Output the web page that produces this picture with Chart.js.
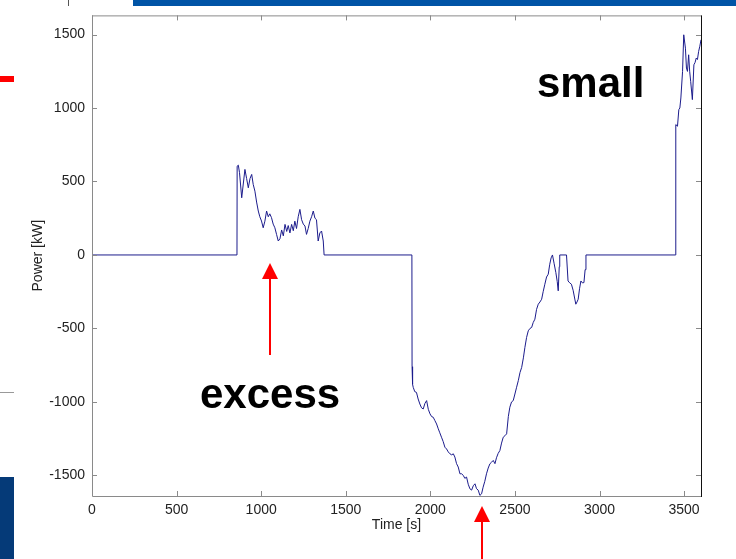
<!DOCTYPE html>
<html>
<head>
<meta charset="utf-8">
<script src="https://cdn.jsdelivr.net/npm/chart.js@4.4.1/dist/chart.umd.min.js"></script>
<style>
  html, body { margin: 0; padding: 0; background: #fff; }
  #wrap { position: relative; width: 736px; height: 559px; overflow: hidden; font-family: "Liberation Sans", Arial, sans-serif; }
  #wrap canvas { position: absolute; left: 0; top: 0; }
  .deco { position: absolute; }
  .note { position: absolute; font-weight: bold; font-size: 42px; color: #000; line-height: 1; white-space: nowrap; }
</style>
</head>
<body>
<div id="wrap">
  <canvas id="power-chart" width="736" height="559"></canvas>
  <div class="deco" style="left:133px; top:0; width:603px; height:6px; background:#0054a6;"></div>
  <div class="deco" style="left:68px; top:0; width:1px; height:6px; background:#555;"></div>
  <div class="deco" style="left:0; top:76px; width:14px; height:6px; background:#f00;"></div>
  <div class="deco" style="left:0; top:392px; width:14px; height:1px; background:#999;"></div>
  <div class="deco" style="left:0; top:477px; width:14px; height:82px; background:#053a78;"></div>
  <div class="note" style="left:537px; top:62px;">small</div>
  <div class="note" style="left:200px; top:373px;">excess</div>
</div>
<script>
// time [s] and power [kW]
const times = [0, 857, 858, 865, 872, 885, 904, 914, 924, 934, 944, 953, 963, 973, 983, 992, 1002, 1012, 1022, 1032,
  1042, 1051, 1061, 1071, 1081, 1091, 1101, 1111, 1121, 1131, 1141, 1151, 1160, 1170, 1180, 1190, 1199, 1209, 1219, 1229,
  1239, 1249, 1259, 1268, 1278, 1288, 1298, 1308, 1318, 1327, 1337, 1347, 1357, 1367, 1371, 1372,
  1891, 1892, 1895, 1899, 1908, 1918, 1928, 1938, 1948, 1958, 1968, 1978, 1988, 1998, 2008, 2017, 2027, 2037, 2047, 2056,
  2066, 2076, 2086, 2096, 2106, 2116, 2126, 2136, 2145, 2155, 2165, 2175, 2185, 2195, 2204, 2214, 2224, 2234, 2244, 2254,
  2264, 2273, 2283, 2293, 2303, 2312, 2322, 2332, 2342, 2352, 2362, 2372, 2382, 2391, 2401, 2411, 2421, 2431, 2441, 2451,
  2461, 2470, 2480, 2490, 2500, 2510, 2520, 2530, 2540, 2550, 2559, 2569, 2579, 2589, 2599, 2608, 2618, 2628, 2638, 2648,
  2658, 2667, 2677, 2687, 2697, 2706, 2714, 2722, 2732, 2742, 2750, 2756, 2762, 2765, 2805, 2814, 2824, 2834, 2844, 2854,
  2860, 2867, 2874, 2882, 2890, 2899, 2908, 2915, 2920,
  3450, 3451, 3461, 3469, 3475, 3481, 3491, 3498, 3508, 3514, 3520, 3527, 3533, 3539, 3549, 3558, 3565, 3572, 3579, 3586,
  3593, 3600];
const power = [0, 0, 604, 611, 560, 389, 582, 520, 457, 520, 548, 480, 434, 360, 299, 260, 231, 185, 230, 299,
  260, 280, 254, 210, 185, 140, 95, 110, 170, 130, 208, 160, 200, 150, 208, 165, 230, 180, 260, 310,
  240, 210, 197, 140, 180, 230, 260, 299, 250, 240, 95, 150, 163, 95, 95, 0,
  0, -760, -880, -901, -930, -935, -980, -1014, -1040, -1048, -1010, -991, -1050, -1081, -1100, -1104, -1127, -1150, -1183, -1210,
  -1240, -1270, -1308, -1320, -1340, -1353, -1360, -1353, -1375, -1420, -1443, -1489, -1489, -1500, -1520, -1511, -1560, -1591, -1600, -1570,
  -1557, -1590, -1600, -1636, -1625, -1580, -1540, -1489, -1450, -1421, -1410, -1398, -1420, -1380, -1350, -1331, -1280, -1240, -1230, -1217,
  -1100, -1036, -1000, -991, -946, -900, -855, -800, -765, -700, -629, -561, -516, -500, -493, -460, -437, -370, -335, -320,
  -301, -250, -199, -150, -131, -63, -20, 0, -60, -120, -180, -244, -80, 0, 0, -177, -190, -199, -240, -300,
  -335, -320, -301, -230, -177, -190, -188, -100, 0,
  0, 887, 876, 989, 1000, 1068, 1249, 1498, 1407, 1272, 1249, 1362, 1250, 1181, 1057, 1294, 1310, 1340, 1330, 1385,
  1420, 1464];

const xTicks = [0, 500, 1000, 1500, 2000, 2500, 3000, 3500];
const yTicks = [-1500, -1000, -500, 0, 500, 1000, 1500];

// MATLAB-like box with inward ticks, plus the two red arrows
const matlabAxes = {
    id: 'matlabAxes',
    afterDraw(chart) {
        const ctx = chart.ctx;
        const a = chart.chartArea;
        const xs = chart.scales.x;
        const ys = chart.scales.y;
        const tl = 5;
        ctx.save();
        ctx.lineWidth = 1;
        ctx.strokeStyle = '#8a8a8a';
        ctx.beginPath();
        ctx.moveTo(a.left + 0.5, a.top + 0.5);
        ctx.lineTo(a.right + 0.5, a.top + 0.5);
        ctx.moveTo(a.left + 0.5, a.top);
        ctx.lineTo(a.left + 0.5, a.bottom + 0.5);
        ctx.lineTo(a.right + 0.5, a.bottom + 0.5);
        xTicks.forEach(v => {
            const px = Math.round(xs.getPixelForValue(v)) + 0.5;
            ctx.moveTo(px, a.bottom);
            ctx.lineTo(px, a.bottom - tl);
            ctx.moveTo(px, a.top);
            ctx.lineTo(px, a.top + tl);
        });
        yTicks.forEach(v => {
            const py = Math.round(ys.getPixelForValue(v)) + 0.5;
            ctx.moveTo(a.left, py);
            ctx.lineTo(a.left + tl, py);
            ctx.moveTo(a.right, py);
            ctx.lineTo(a.right - tl, py);
        });
        ctx.stroke();
        ctx.strokeStyle = '#111';
        ctx.beginPath();
        ctx.moveTo(a.right + 0.5, a.top);
        ctx.lineTo(a.right + 0.5, a.bottom + 1);
        ctx.stroke();

        // arrows
        ctx.strokeStyle = '#f00';
        ctx.fillStyle = '#f00';
        ctx.lineWidth = 2;
        function arrowUp(x, tipY, endY) {
            ctx.beginPath();
            ctx.moveTo(x, endY);
            ctx.lineTo(x, tipY + 12);
            ctx.stroke();
            ctx.beginPath();
            ctx.moveTo(x, tipY);
            ctx.lineTo(x - 8, tipY + 16);
            ctx.lineTo(x + 8, tipY + 16);
            ctx.closePath();
            ctx.fill();
        }
        arrowUp(Math.round(xs.getPixelForValue(1055)), 263, 355);
        arrowUp(Math.round(xs.getPixelForValue(2305)), 506, 559);
        ctx.restore();
    }
};

const tickFont = { family: 'Liberation Sans', size: 14 };

new Chart(document.getElementById('power-chart'), {
    type: 'line',
    data: {
        datasets: [{
            label: 'Power',
            data: times.map((t, i) => ({ x: t, y: power[i] })),
            borderColor: '#1c1c8c',
            borderWidth: 1,
            pointRadius: 0,
            tension: 0,
            fill: false
        }]
    },
    options: {
        responsive: false,
        animation: false,
        layout: { padding: { top: 14, right: 35, left: 0, bottom: 0 } },
        plugins: {
            legend: { display: false },
            tooltip: { enabled: false }
        },
        scales: {
            x: {
                type: 'linear',
                min: 0,
                max: 3600,
                afterBuildTicks: s => { s.ticks = xTicks.map(v => ({ value: v })); },
                afterFit: s => { s.height = 63; },
                grid: { display: false, drawTicks: false },
                border: { display: false },
                ticks: { padding: 6, color: '#222', maxRotation: 0, font: tickFont, callback: v => String(v) },
                title: { display: true, text: 'Time [s]', color: '#222', padding: { top: 0, bottom: 25 }, font: { family: 'Liberation Sans', size: 14 } }
            },
            y: {
                type: 'linear',
                min: -1640,
                max: 1630,
                afterBuildTicks: s => { s.ticks = yTicks.map(v => ({ value: v })); },
                afterFit: s => { s.width = 92; },
                grid: { display: false, drawTicks: false },
                border: { display: false },
                ticks: { padding: 7, color: '#222', font: tickFont, callback: v => String(v) },
                title: { display: true, text: 'Power [kW]', color: '#222', padding: { top: 30, bottom: 0 }, font: { family: 'Liberation Sans', size: 14 } }
            }
        }
    },
    plugins: [matlabAxes]
});
</script>
</body>
</html>
